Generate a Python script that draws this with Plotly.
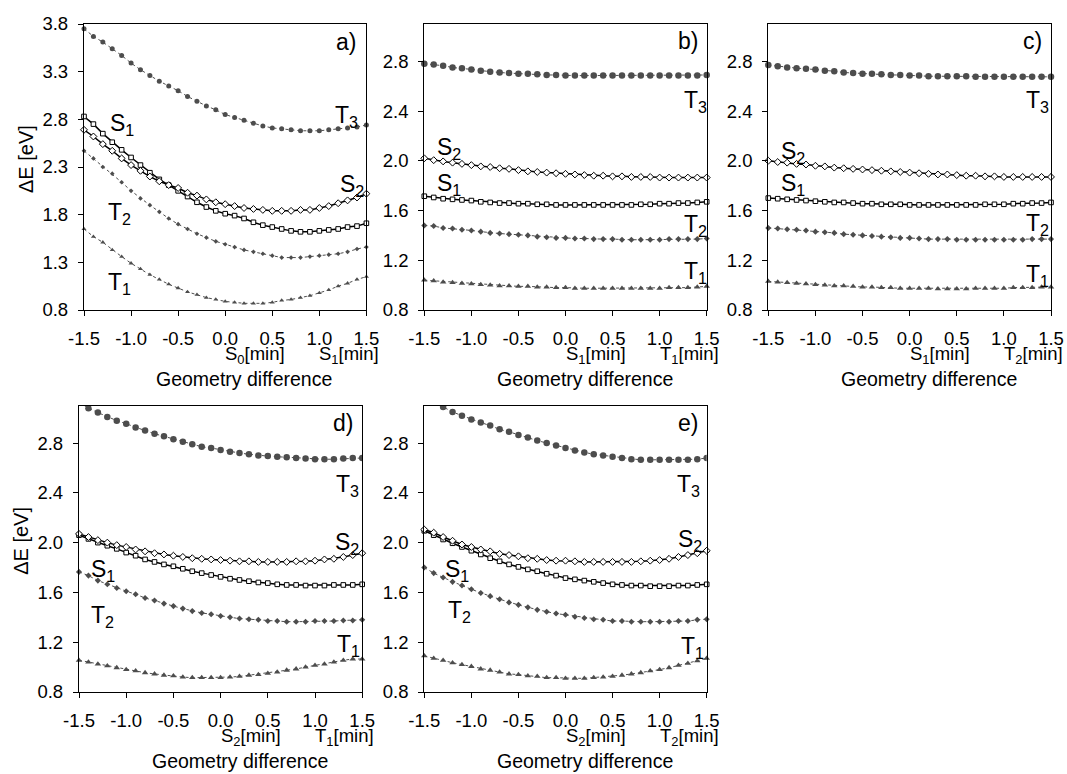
import plotly.graph_objects as go

W, H = 1067, 774

X = [-1.5, -1.4, -1.3, -1.2, -1.1, -1.0, -0.9, -0.8, -0.7, -0.6, -0.5, -0.4, -0.3, -0.2, -0.1,
     0.0, 0.1, 0.2, 0.3, 0.4, 0.5, 0.6, 0.7, 0.8, 0.9, 1.0, 1.1, 1.2, 1.3, 1.4, 1.5]

X_TICKS = [-1.5, -1.0, -0.5, 0.0, 0.5, 1.0, 1.5]
X_TICKTEXT = ["-1.5", "-1.0", "-0.5", "0.0", "0.5", "1.0", "1.5"]
Y_TICKS_A = [0.8, 1.3, 1.8, 2.3, 2.8, 3.3, 3.8]
Y_TICKS_B = [0.8, 1.2, 1.6, 2.0, 2.4, 2.8]

# ---- panel a ----
A_T3 = [3.75, 3.67, 3.61, 3.54, 3.47, 3.39, 3.32, 3.26, 3.20, 3.15, 3.10, 3.04, 2.99, 2.94, 2.90,
        2.85, 2.82, 2.79, 2.76, 2.73, 2.71, 2.70, 2.69, 2.68, 2.68, 2.68, 2.69, 2.70, 2.71, 2.72, 2.74]
A_S2 = [2.69, 2.62, 2.54, 2.47, 2.39, 2.32, 2.26, 2.20, 2.15, 2.11, 2.08, 2.03, 2.00, 1.96, 1.93,
        1.91, 1.89, 1.87, 1.86, 1.85, 1.84, 1.84, 1.84, 1.85, 1.85, 1.87, 1.89, 1.92, 1.95, 1.98, 2.02]
A_S1 = [2.83, 2.75, 2.65, 2.56, 2.48, 2.40, 2.32, 2.24, 2.17, 2.11, 2.05, 1.99, 1.93, 1.88, 1.84,
        1.81, 1.79, 1.76, 1.72, 1.69, 1.67, 1.65, 1.63, 1.62, 1.62, 1.63, 1.64, 1.65, 1.67, 1.68, 1.71]
A_T2 = [2.47, 2.39, 2.30, 2.23, 2.14, 2.05, 1.97, 1.90, 1.83, 1.76, 1.70, 1.65, 1.60, 1.56, 1.52,
        1.49, 1.46, 1.43, 1.41, 1.39, 1.37, 1.35, 1.35, 1.35, 1.36, 1.37, 1.38, 1.39, 1.41, 1.44, 1.46]
A_T1 = [1.65, 1.57, 1.51, 1.43, 1.36, 1.29, 1.23, 1.17, 1.12, 1.07, 1.03, 0.99, 0.96, 0.93, 0.91,
        0.89, 0.88, 0.87, 0.87, 0.87, 0.88, 0.90, 0.91, 0.93, 0.95, 0.98, 1.01, 1.05, 1.08, 1.12, 1.15]

# ---- panel b ----
B_T3 = [2.78, 2.775, 2.765, 2.75, 2.745, 2.735, 2.725, 2.715, 2.71, 2.705, 2.70, 2.70, 2.695, 2.69, 2.69,
        2.685, 2.685, 2.685, 2.685, 2.685, 2.685, 2.685, 2.685, 2.685, 2.685, 2.685, 2.685, 2.685, 2.685, 2.685, 2.69]
B_S2 = [2.02, 2.005, 1.995, 1.985, 1.975, 1.965, 1.955, 1.95, 1.94, 1.935, 1.925, 1.915, 1.91, 1.905, 1.90,
        1.895, 1.89, 1.885, 1.88, 1.88, 1.875, 1.875, 1.87, 1.87, 1.87, 1.865, 1.865, 1.865, 1.865, 1.865, 1.865]
B_S1 = [1.715, 1.705, 1.695, 1.69, 1.685, 1.68, 1.67, 1.665, 1.66, 1.66, 1.655, 1.655, 1.65, 1.65, 1.645,
        1.645, 1.645, 1.645, 1.645, 1.645, 1.645, 1.645, 1.645, 1.65, 1.65, 1.655, 1.655, 1.66, 1.66, 1.665, 1.67]
B_T2 = [1.48, 1.475, 1.46, 1.455, 1.445, 1.44, 1.43, 1.42, 1.415, 1.41, 1.405, 1.40, 1.39, 1.385, 1.38,
        1.38, 1.375, 1.375, 1.37, 1.37, 1.37, 1.365, 1.365, 1.365, 1.365, 1.365, 1.37, 1.37, 1.37, 1.37, 1.375]
B_T1 = [1.04, 1.035, 1.025, 1.02, 1.015, 1.01, 1.005, 1.00, 0.995, 0.995, 0.99, 0.99, 0.985, 0.985, 0.98,
        0.98, 0.975, 0.975, 0.975, 0.975, 0.975, 0.975, 0.975, 0.975, 0.975, 0.975, 0.98, 0.98, 0.98, 0.985, 0.99]

# ---- panel c ----
C_T3 = [2.77, 2.76, 2.75, 2.745, 2.74, 2.735, 2.725, 2.72, 2.71, 2.705, 2.70, 2.70, 2.695, 2.69, 2.69,
        2.685, 2.685, 2.68, 2.68, 2.68, 2.68, 2.68, 2.675, 2.675, 2.675, 2.675, 2.675, 2.675, 2.675, 2.675, 2.675]
C_S2 = [2.00, 1.99, 1.985, 1.975, 1.97, 1.96, 1.955, 1.945, 1.94, 1.935, 1.93, 1.925, 1.92, 1.915, 1.91,
        1.905, 1.90, 1.895, 1.89, 1.89, 1.885, 1.88, 1.88, 1.875, 1.875, 1.87, 1.87, 1.87, 1.87, 1.87, 1.87]
C_S1 = [1.70, 1.695, 1.69, 1.685, 1.68, 1.675, 1.67, 1.665, 1.665, 1.66, 1.655, 1.655, 1.65, 1.65, 1.65,
        1.645, 1.645, 1.645, 1.645, 1.645, 1.645, 1.645, 1.645, 1.65, 1.65, 1.65, 1.655, 1.655, 1.66, 1.66, 1.665]
C_T2 = [1.46, 1.455, 1.45, 1.445, 1.44, 1.43, 1.425, 1.42, 1.41, 1.405, 1.40, 1.395, 1.39, 1.385, 1.38,
        1.38, 1.375, 1.37, 1.37, 1.37, 1.365, 1.365, 1.365, 1.365, 1.365, 1.365, 1.365, 1.365, 1.37, 1.37, 1.37]
C_T1 = [1.03, 1.025, 1.02, 1.015, 1.01, 1.005, 1.00, 0.995, 0.995, 0.99, 0.985, 0.985, 0.98, 0.98, 0.975,
        0.975, 0.975, 0.975, 0.97, 0.97, 0.97, 0.97, 0.975, 0.975, 0.975, 0.975, 0.98, 0.98, 0.98, 0.985, 0.985]

# ---- panel d ----
D_T3 = [3.13, 3.08, 3.045, 3.01, 2.98, 2.955, 2.925, 2.90, 2.875, 2.855, 2.83, 2.81, 2.79, 2.77, 2.76,
        2.745, 2.73, 2.72, 2.71, 2.70, 2.695, 2.69, 2.685, 2.68, 2.675, 2.67, 2.67, 2.67, 2.675, 2.68, 2.68]
D_S2 = [2.07, 2.045, 2.02, 2.00, 1.98, 1.965, 1.945, 1.93, 1.915, 1.905, 1.895, 1.885, 1.875, 1.87, 1.865,
        1.86, 1.855, 1.85, 1.85, 1.845, 1.845, 1.845, 1.845, 1.85, 1.85, 1.855, 1.865, 1.87, 1.885, 1.90, 1.915]
D_S1 = [2.06, 2.03, 2.00, 1.975, 1.95, 1.92, 1.895, 1.865, 1.845, 1.825, 1.81, 1.79, 1.77, 1.755, 1.74,
        1.725, 1.71, 1.70, 1.69, 1.68, 1.675, 1.665, 1.66, 1.66, 1.655, 1.655, 1.655, 1.66, 1.66, 1.66, 1.665]
D_T2 = [1.765, 1.735, 1.695, 1.665, 1.635, 1.61, 1.585, 1.555, 1.535, 1.51, 1.49, 1.47, 1.45, 1.435, 1.425,
        1.41, 1.40, 1.39, 1.385, 1.38, 1.37, 1.37, 1.365, 1.365, 1.365, 1.37, 1.37, 1.37, 1.375, 1.375, 1.38]
D_T1 = [1.055, 1.04, 1.025, 1.01, 0.995, 0.98, 0.97, 0.955, 0.945, 0.935, 0.93, 0.92, 0.915, 0.915, 0.915,
        0.915, 0.92, 0.925, 0.935, 0.94, 0.95, 0.96, 0.975, 0.985, 1.00, 1.015, 1.025, 1.04, 1.055, 1.065, 1.065]

# ---- panel e ----
E_T3 = [3.18, 3.14, 3.09, 3.05, 3.02, 2.99, 2.965, 2.94, 2.91, 2.89, 2.865, 2.845, 2.82, 2.80, 2.78,
        2.76, 2.74, 2.725, 2.71, 2.70, 2.69, 2.68, 2.67, 2.665, 2.665, 2.665, 2.665, 2.665, 2.665, 2.67, 2.68]
E_S2 = [2.105, 2.08, 2.045, 2.015, 1.985, 1.965, 1.945, 1.93, 1.91, 1.90, 1.89, 1.875, 1.87, 1.86, 1.855,
        1.855, 1.85, 1.845, 1.845, 1.845, 1.845, 1.845, 1.845, 1.85, 1.855, 1.86, 1.87, 1.885, 1.90, 1.915, 1.935]
E_S1 = [2.095, 2.06, 2.025, 1.995, 1.965, 1.935, 1.905, 1.875, 1.85, 1.825, 1.805, 1.785, 1.77, 1.75, 1.735,
        1.715, 1.705, 1.695, 1.685, 1.675, 1.665, 1.66, 1.655, 1.655, 1.65, 1.65, 1.65, 1.655, 1.655, 1.66, 1.665]
E_T2 = [1.80, 1.755, 1.72, 1.685, 1.655, 1.625, 1.595, 1.57, 1.545, 1.52, 1.50, 1.48, 1.46, 1.445, 1.43,
        1.42, 1.405, 1.395, 1.385, 1.38, 1.37, 1.37, 1.365, 1.365, 1.365, 1.365, 1.365, 1.37, 1.37, 1.38, 1.385]
E_T1 = [1.09, 1.07, 1.055, 1.035, 1.02, 1.005, 0.985, 0.975, 0.96, 0.945, 0.94, 0.93, 0.925, 0.915, 0.915,
        0.91, 0.91, 0.91, 0.915, 0.92, 0.925, 0.935, 0.945, 0.955, 0.97, 0.98, 0.995, 1.015, 1.03, 1.05, 1.07]

PANELS = {
    "a": dict(box=(84, 24, 366.4, 310), yr=[0.8, 3.8], yt=Y_TICKS_A,
              T3=A_T3, S2=A_S2, S1=A_S1, T2=A_T2, T1=A_T1, dot=5.0,
              mins=("S<sub>0</sub>[min]", "S<sub>1</sub>[min]"), ytitle=True,
              labels=[("S<sub>1</sub>", -1.1, 2.75), ("T<sub>2</sub>", -1.12, 1.81),
                      ("T<sub>1</sub>", -1.12, 1.08), ("T<sub>3</sub>", 1.29, 2.83),
                      ("S<sub>2</sub>", 1.35, 2.11), ("a)", 1.28, 3.61)]),
    "b": dict(box=(424.3, 24, 706.7, 310), yr=[0.8, 3.1], yt=Y_TICKS_B,
              T3=B_T3, S2=B_S2, S1=B_S1, T2=B_T2, T1=B_T1, dot=6.5,
              mins=("S<sub>1</sub>[min]", "T<sub>1</sub>[min]"), ytitle=False,
              labels=[("b)", 1.3, 2.96), ("T<sub>3</sub>", 1.38, 2.48), ("S<sub>2</sub>", -1.24, 2.1),
                      ("S<sub>1</sub>", -1.24, 1.81), ("T<sub>2</sub>", 1.38, 1.48), ("T<sub>1</sub>", 1.38, 1.1)]),
    "c": dict(box=(768.3, 24, 1051, 310), yr=[0.8, 3.1], yt=Y_TICKS_B,
              T3=C_T3, S2=C_S2, S1=C_S1, T2=C_T2, T1=C_T1, dot=6.5,
              mins=("S<sub>1</sub>[min]", "T<sub>2</sub>[min]"), ytitle=False,
              labels=[("c)", 1.3, 2.96), ("T<sub>3</sub>", 1.36, 2.48), ("S<sub>2</sub>", -1.24, 2.07),
                      ("S<sub>1</sub>", -1.24, 1.81), ("T<sub>2</sub>", 1.36, 1.49), ("T<sub>1</sub>", 1.36, 1.08)]),
    "d": dict(box=(79, 405.7, 362.2, 692), yr=[0.8, 3.1], yt=Y_TICKS_B,
              T3=D_T3, S2=D_S2, S1=D_S1, T2=D_T2, T1=D_T1, dot=6.5,
              mins=("S<sub>2</sub>[min]", "T<sub>1</sub>[min]"), ytitle=True,
              labels=[("d)", 1.3, 2.96), ("T<sub>3</sub>", 1.34, 2.46), ("S<sub>2</sub>", 1.34, 1.99),
                      ("S<sub>1</sub>", -1.25, 1.78), ("T<sub>2</sub>", -1.25, 1.41), ("T<sub>1</sub>", 1.35, 1.17)]),
    "e": dict(box=(424.3, 405.7, 706.7, 692), yr=[0.8, 3.1], yt=Y_TICKS_B,
              T3=E_T3, S2=E_S2, S1=E_S1, T2=E_T2, T1=E_T1, dot=6.5,
              mins=("S<sub>2</sub>[min]", "T<sub>2</sub>[min]"), ytitle=False,
              labels=[("e)", 1.3, 2.96), ("T<sub>3</sub>", 1.31, 2.46), ("S<sub>2</sub>", 1.32, 2.02),
                      ("S<sub>1</sub>", -1.15, 1.78), ("T<sub>2</sub>", -1.13, 1.45), ("T<sub>1</sub>", 1.35, 1.16)]),
}

FONT = "Arial, Liberation Sans, sans-serif"
GRAY = "#4d4d4d"

fig = go.Figure()
layout = dict(width=W, height=H, margin=dict(l=0, r=0, t=0, b=0, autoexpand=False),
              paper_bgcolor="white", plot_bgcolor="white", showlegend=False,
              font=dict(family=FONT, color="black", size=18))
annotations = []

for i, (key, p) in enumerate(PANELS.items()):
    n = "" if i == 0 else str(i + 1)
    xa, ya = "x" + n, "y" + n
    l, t, r, b = p["box"]
    xdom = [l / W, r / W]
    ydom = [1 - b / H, 1 - t / H]
    axis_common = dict(showline=True, linecolor="black", linewidth=1.3, mirror=True,
                       ticks="outside", ticklen=5, tickwidth=1, tickcolor="black", automargin=False,
                       showgrid=False, zeroline=False, tickfont=dict(size=18.5, family=FONT, color="black"))
    layout["xaxis" + n] = dict(domain=xdom, range=[-1.5, 1.5], tickvals=X_TICKS, ticktext=X_TICKTEXT,
                               anchor=ya, ticklabelstandoff=7, **axis_common)
    layout["yaxis" + n] = dict(domain=ydom, range=p["yr"], tickvals=p["yt"],
                               ticktext=["%.1f" % v for v in p["yt"]],
                               anchor=xa, ticklabelstandoff=6, **axis_common)

    d = p["dot"]
    clip_t3 = key in ("d", "e")
    fig.add_trace(go.Scatter(x=X, y=p["T3"], xaxis=xa, yaxis=ya, mode="lines+markers",
                             line=dict(color=GRAY, width=1, dash="dot"),
                             marker=dict(symbol="circle", size=d, color=GRAY),
                             cliponaxis=clip_t3))
    fig.add_trace(go.Scatter(x=X, y=p["T2"], xaxis=xa, yaxis=ya, mode="lines+markers",
                             line=dict(color=GRAY, width=1, dash="dot"),
                             marker=dict(symbol="diamond", size=d * 0.72, color=GRAY),
                             cliponaxis=False))
    fig.add_trace(go.Scatter(x=X, y=p["T1"], xaxis=xa, yaxis=ya, mode="lines+markers",
                             line=dict(color=GRAY, width=1, dash="dot"),
                             marker=dict(symbol="triangle-up", size=d * 0.88, color=GRAY),
                             cliponaxis=False))
    fig.add_trace(go.Scatter(x=X, y=p["S1"], xaxis=xa, yaxis=ya, mode="lines+markers",
                             line=dict(color="black", width=1.5),
                             marker=dict(symbol="square", size=4.6, color="white",
                                         line=dict(color="black", width=1)),
                             cliponaxis=False))
    fig.add_trace(go.Scatter(x=X, y=p["S2"], xaxis=xa, yaxis=ya, mode="lines+markers",
                             line=dict(color="black", width=1.5),
                             marker=dict(symbol="diamond", size=5.3, color="white",
                                         line=dict(color="black", width=1)),
                             cliponaxis=False))

    for txt, lx, ly in p["labels"]:
        annotations.append(dict(text=txt, x=lx, y=ly, xref=xa, yref=ya, showarrow=False,
                                font=dict(size=23, family=FONT, color="black"),
                                xanchor="center", yanchor="middle"))
    # [min] labels under x = 0.0 and x = 1.0
    span = r - l
    for k, txt in enumerate(p["mins"]):
        px = l + span * ((0.0 if k == 0 else 1.0) + 1.5) / 3.0 - 2
        annotations.append(dict(text=txt, x=px / W, y=1 - (b + 45) / H, xref="paper", yref="paper",
                                showarrow=False, xanchor="left", yanchor="middle",
                                font=dict(size=18.5, family=FONT, color="black")))
    annotations.append(dict(text="Geometry difference", x=((l + r) / 2 + 19) / W, y=1 - (b + 69) / H,
                            xref="paper", yref="paper", showarrow=False, xanchor="center",
                            yanchor="middle", font=dict(size=19.5, family=FONT, color="black")))
    if p["ytitle"]:
        annotations.append(dict(text="ΔE [eV]", x=(l - 58) / W, y=1 - ((t + b) / 2 - 8) / H,
                                xref="paper", yref="paper", showarrow=False, textangle=-90,
                                xanchor="center", yanchor="middle",
                                font=dict(size=20, family=FONT, color="black")))

layout["annotations"] = annotations
fig.update_layout(**layout)
fig.write_html("out.html", config={"displayModeBar": False},
               post_script="document.body.style.margin='0px';")
